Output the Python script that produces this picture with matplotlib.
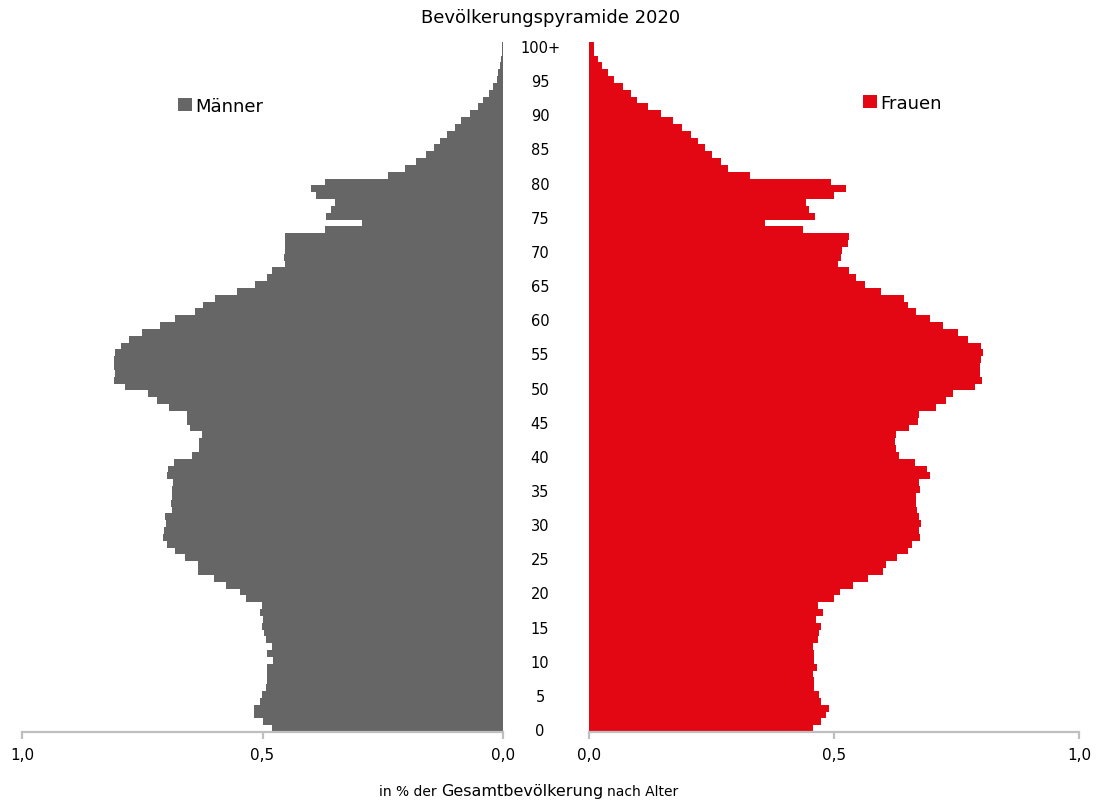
import numpy as np
import matplotlib.pyplot as plt
from matplotlib.transforms import blended_transform_factory

ages = np.arange(0, 101)
age_labels = [str(a) if a < 100 else '100+' for a in range(0, 101, 5)]

# Anteil an der Gesamtbevölkerung in %, Alter 0 .. 100+
maenner = [0.481, 0.498, 0.517, 0.517, 0.505, 0.501, 0.493, 0.491, 0.491, 0.490,
           0.479, 0.491, 0.481, 0.493, 0.497, 0.502, 0.500, 0.505, 0.501, 0.534,
           0.546, 0.576, 0.600, 0.634, 0.634, 0.662, 0.681, 0.698, 0.707, 0.704,
           0.700, 0.703, 0.688, 0.690, 0.689, 0.688, 0.687, 0.698, 0.696, 0.684,
           0.646, 0.632, 0.632, 0.626, 0.650, 0.658, 0.656, 0.694, 0.719, 0.738,
           0.785, 0.809, 0.807, 0.808, 0.808, 0.807, 0.795, 0.777, 0.750, 0.714,
           0.682, 0.641, 0.624, 0.598, 0.554, 0.516, 0.491, 0.480, 0.453, 0.455,
           0.454, 0.453, 0.453, 0.371, 0.293, 0.369, 0.357, 0.349, 0.388, 0.399,
           0.371, 0.240, 0.204, 0.181, 0.161, 0.143, 0.132, 0.117, 0.099, 0.087,
           0.069, 0.053, 0.041, 0.029, 0.020, 0.013, 0.010, 0.007, 0.005, 0.003,
           0.002]
frauen = [0.457, 0.474, 0.483, 0.490, 0.474, 0.470, 0.460, 0.460, 0.457, 0.465,
          0.460, 0.459, 0.458, 0.468, 0.469, 0.473, 0.464, 0.478, 0.468, 0.500,
          0.512, 0.539, 0.569, 0.600, 0.606, 0.629, 0.650, 0.660, 0.676, 0.674,
          0.677, 0.674, 0.669, 0.668, 0.667, 0.676, 0.674, 0.695, 0.689, 0.666,
          0.632, 0.626, 0.624, 0.627, 0.653, 0.671, 0.673, 0.709, 0.728, 0.743,
          0.787, 0.802, 0.798, 0.798, 0.800, 0.805, 0.800, 0.774, 0.753, 0.722,
          0.696, 0.667, 0.650, 0.643, 0.595, 0.564, 0.544, 0.531, 0.508, 0.515,
          0.517, 0.529, 0.531, 0.437, 0.360, 0.461, 0.449, 0.442, 0.500, 0.525,
          0.494, 0.329, 0.284, 0.269, 0.251, 0.236, 0.222, 0.209, 0.190, 0.172,
          0.147, 0.120, 0.098, 0.085, 0.070, 0.051, 0.038, 0.026, 0.019, 0.011,
          0.011]

grey = '#666666'
red = '#E30613'
axis_grey = '#BFBFBF'
W, H = 1096, 804

plt.rcParams['font.family'] = ['DejaVu Sans']

fig = plt.figure(figsize=(W / 100, H / 100), dpi=100)
ax_m = fig.add_axes([22 / W, 1 - 733 / H, 481 / W, 690 / H])
ax_f = fig.add_axes([589 / W, 1 - 733 / H, 490 / W, 690 / H])

bars_m = ax_m.barh(ages, maenner, height=1.0, color=grey, linewidth=0)
bars_f = ax_f.barh(ages, frauen, height=1.0, color=red, linewidth=0)

ax_m.set_xlim(1.0, 0.0)
ax_f.set_xlim(0.0, 1.0)
for ax in (ax_m, ax_f):
    ax.set_ylim(-0.5, 100.5)
    ax.set_yticks([])
    for s in ('top', 'left', 'right'):
        ax.spines[s].set_visible(False)
    ax.spines['bottom'].set_color(axis_grey)
    ax.spines['bottom'].set_linewidth(1.6)
    ax.set_xticks([0.0, 0.5, 1.0])
    ax.set_xticklabels(['0,0', '0,5', '1,0'])
    ax.tick_params(axis='x', direction='out', length=5, width=1.6,
                   color=axis_grey, labelsize=11, pad=6, labelcolor='black')

# Alterslabels in der Mitte
tr = blended_transform_factory(fig.transFigure, ax_f.transData)
for a, lab in zip(range(0, 101, 5), age_labels):
    fig.text(540 / W, a - 0.3, lab, transform=tr, ha='center', va='center', fontsize=10.5)

fig.text(551 / W, 1 - 18 / H, 'Bevölkerungspyramide 2020', ha='center', va='center', fontsize=13)

ax_m.legend([bars_m], ['Männer'], loc='center left', bbox_to_anchor=(178 / W, 1 - 107 / H),
            bbox_transform=fig.transFigure, frameon=False, fontsize=13,
            handlelength=0.75, handleheight=0.75, handletextpad=0.2, borderpad=0, borderaxespad=0)
ax_f.legend([bars_f], ['Frauen'], loc='center left', bbox_to_anchor=(863 / W, 1 - 104 / H),
            bbox_transform=fig.transFigure, frameon=False, fontsize=13,
            handlelength=0.75, handleheight=0.75, handletextpad=0.2, borderpad=0, borderaxespad=0)

# Achsentitel mit gemischter Schriftgröße
ymid = 1 - 792 / H
t_mid = fig.text(522 / W, ymid, 'Gesamtbevölkerung', ha='center', va='center', fontsize=11.5)
fig.canvas.draw()
bb = t_mid.get_window_extent()
fig.text((bb.x0 - 4) / W, ymid, 'in % der', ha='right', va='center', fontsize=10)
fig.text((bb.x1 + 4) / W, ymid, 'nach Alter', ha='left', va='center', fontsize=10)

fig.savefig('out.png', dpi=100)
